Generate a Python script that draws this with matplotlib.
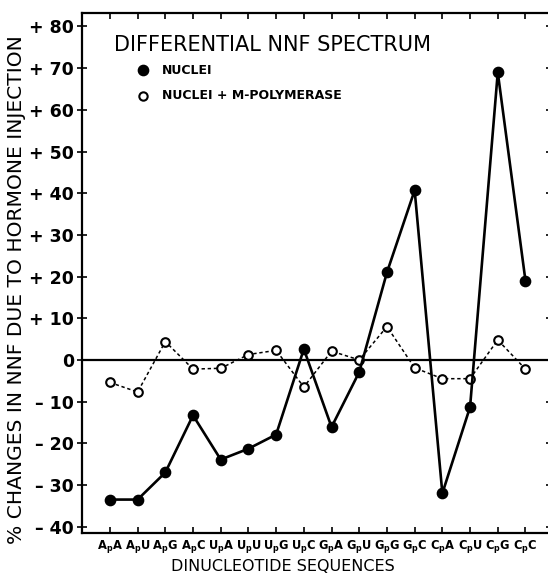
import matplotlib
matplotlib.use("Agg")
import matplotlib.pyplot as plt

# dinucleotide categories (first base, second base)
pairs = [("A", "A"), ("A", "U"), ("A", "G"), ("A", "C"),
         ("U", "A"), ("U", "U"), ("U", "G"), ("U", "C"),
         ("G", "A"), ("G", "U"), ("G", "G"), ("G", "C"),
         ("C", "A"), ("C", "U"), ("C", "G"), ("C", "C")]

# % change
nuclei = [-33.5, -33.5, -27.0, -13.3, -23.9, -21.3, -17.9, 2.6,
          -16.1, -2.9, 21.0, 40.7, -32.0, -11.3, 69.0, 19.0]
nuclei_poly = [-5.4, -7.7, 4.4, -2.2, -2.0, 1.3, 2.3, -6.5,
               2.1, 0.0, 8.0, -1.9, -4.5, -4.5, 4.8, -2.2]

yticks = [80, 70, 60, 50, 40, 30, 20, 10, 0, -10, -20, -30, -40]
ytick_labels = ["+ 80", "+ 70", "+ 60", "+ 50", "+ 40", "+ 30", "+ 20", "+ 10",
                "0", "\u2013 10", "\u2013 20", "\u2013 30", "\u2013 40"]

xlabels = [a + r"$_\mathbf{p}$" + b for a, b in pairs]
x = list(range(len(pairs)))

fig = plt.figure(figsize=(5.48, 5.78), dpi=100)
ax = fig.add_axes([0.149, 0.078, 0.8564, 0.900])

ax.axhline(0, color="black", lw=1.6, zorder=1)
ax.plot(x, nuclei_poly, linestyle=(0, (2.2, 1.8)), color="black", lw=1.1,
        marker="o", markersize=6.2, markerfacecolor="white",
        markeredgecolor="black", markeredgewidth=1.5, zorder=3)
ax.plot(x, nuclei, "-", color="black", lw=1.9, marker="o", markersize=7.4,
        markerfacecolor="black", markeredgecolor="black", zorder=4)

ax.set_xlim(-1.02, 15.92)
ax.set_ylim(-41.5, 83.3)

ax.set_yticks(yticks)
ax.set_yticklabels(ytick_labels, fontsize=12.5, fontweight="bold")
ax.set_xticks(x)
ax.set_xticklabels(xlabels, fontsize=8.3, fontweight="heavy")

ax.tick_params(axis="y", left=True, right=True, direction="inout", length=7, width=1.2, pad=2)
ax.tick_params(axis="x", top=True, bottom=True, direction="in", length=4, width=1.2, pad=4)

for s in ["left", "bottom", "top"]:
    ax.spines[s].set_linewidth(1.6)
ax.spines["right"].set_visible(False)

ax.set_xlabel("DINUCLEOTIDE SEQUENCES", fontsize=11.5)
ax.xaxis.set_label_coords(0.429, -0.05)
ax.set_ylabel("% CHANGES IN NNF DUE TO HORMONE INJECTION", fontsize=14.6)
ax.yaxis.set_label_coords(-0.118, 0.467)

# title and legend inside the plot
ax.text(0.068, 0.937, "DIFFERENTIAL NNF SPECTRUM", transform=ax.transAxes,
        fontsize=15, va="center", ha="left")
ax.plot([0.131], [0.889], "o", transform=ax.transAxes, markersize=7.4,
        color="black", clip_on=False)
ax.text(0.172, 0.889, "NUCLEI", transform=ax.transAxes,
        fontsize=9, fontweight="heavy", va="center", ha="left")
ax.plot([0.131], [0.840], "o", transform=ax.transAxes, markersize=6,
        markerfacecolor="white", markeredgecolor="black", markeredgewidth=1.5,
        clip_on=False)
ax.text(0.172, 0.840, "NUCLEI + M-POLYMERASE", transform=ax.transAxes,
        fontsize=9, fontweight="heavy", va="center", ha="left")

fig.savefig("out.png", dpi=100)
